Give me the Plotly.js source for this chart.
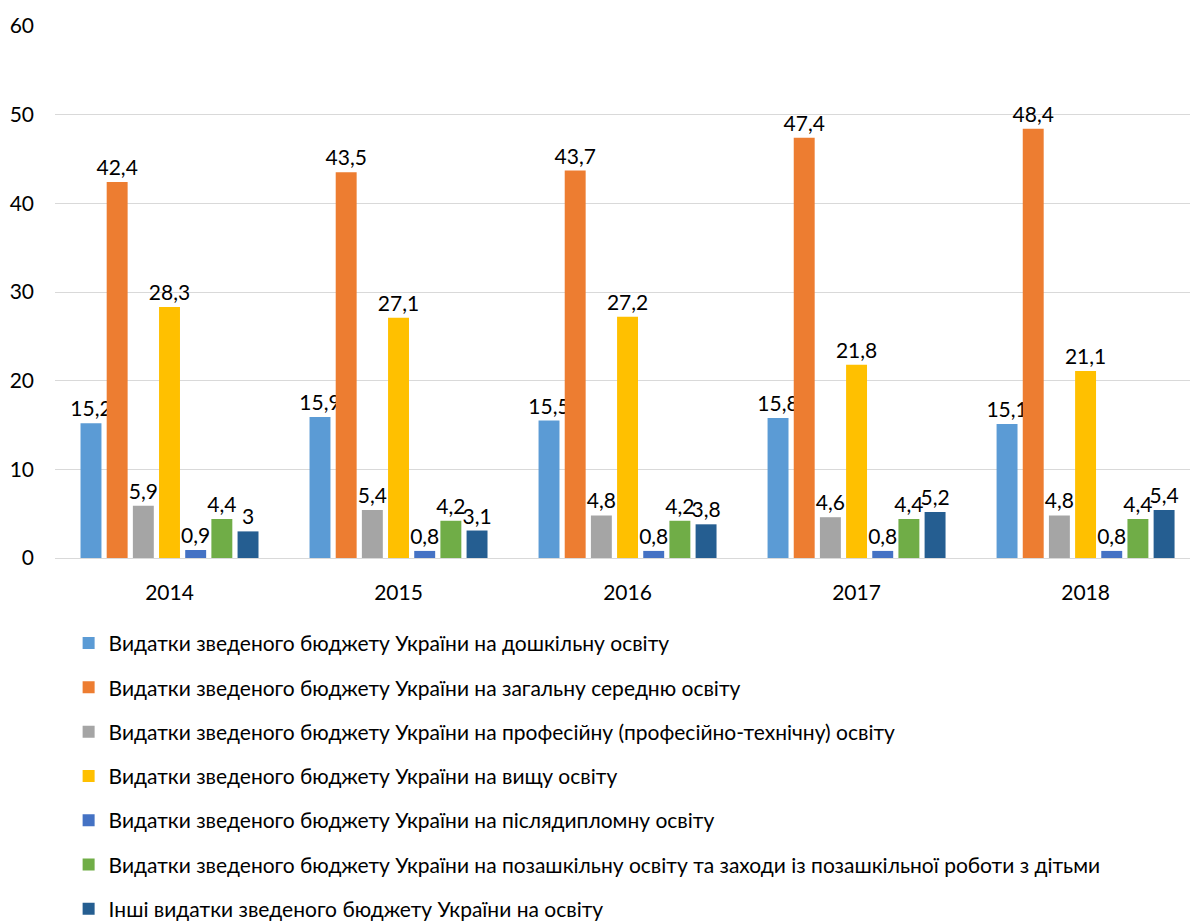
<!DOCTYPE html>
<html><head><meta charset="utf-8">
<script src="https://cdn.plot.ly/plotly-3.0.1.min.js"></script>
<style>html,body{margin:0;padding:0;background:#fff}#chart{width:1190px;height:923px}</style>
</head><body><div id="chart"></div>
<script>
const years = ['2014','2015','2016','2017','2018'];
const seriesNames = [
  'Видатки зведеного бюджету України на дошкільну освіту',
  'Видатки зведеного бюджету України на загальну середню освіту',
  'Видатки зведеного бюджету України на професійну (професійно-технічну) освіту',
  'Видатки зведеного бюджету України на вищу освіту',
  'Видатки зведеного бюджету України на післядипломну освіту',
  'Видатки зведеного бюджету України на позашкільну освіту та заходи із позашкільної роботи з дітьми',
  'Інші видатки зведеного бюджету України на освіту'
];
const preschool = [15.2, 15.9, 15.5, 15.8, 15.1];
const generalSecondary = [42.4, 43.5, 43.7, 47.4, 48.4];
const vocational = [5.9, 5.4, 4.8, 4.6, 4.8];
const higher = [28.3, 27.1, 27.2, 21.8, 21.1];
const postgraduate = [0.9, 0.8, 0.8, 0.8, 0.8];
const outOfSchool = [4.4, 4.2, 4.2, 4.4, 4.4];
const other = [3, 3.1, 3.8, 5.2, 5.4];
const seriesValues = [preschool, generalSecondary, vocational, higher, postgraduate, outOfSchool, other];
const colors = ['#5B9BD5','#ED7D31','#A5A5A5','#FFC000','#4472C4','#70AD47','#255E91'];

const FONT = 'Lato, "Open Sans", sans-serif';
const traces = seriesValues.map((vals, i) => ({
  type: 'bar',
  name: seriesNames[i],
  x: years,
  y: vals,
  marker: {color: colors[i]},
  text: vals.map(v => String(v).replace('.', ',')),
  textposition: 'outside',
  textangle: 0,
  constraintext: 'none',
  cliponaxis: false,
  textfont: {family: FONT, size: 21, color: '#000'},
  legendgroup: 'g' + i,
  hoverinfo: 'x+y+name'
}));

const layout = {
  width: 1190, height: 923,
  margin: {l: 55, r: 0, t: 26, b: 365, autoexpand: false},
  paper_bgcolor: '#fff', plot_bgcolor: '#fff',
  font: {family: FONT, size: 21, color: '#000'},
  barmode: 'group',
  bargap: 0.2,
  bargroupgap: 0.2,
  separators: ', ',
  xaxis: {
    type: 'category',
    range: [-0.5, 4.456],
    showgrid: false,
    showline: true, linecolor: '#D9D9D9', linewidth: 1,
    ticks: '', ticklabelstandoff: 16,
    tickfont: {family: FONT, size: 21, color: '#000'}
  },
  yaxis: {
    range: [0, 60],
    dtick: 10,
    showgrid: true, gridcolor: '#D9D9D9', gridwidth: 1,
    zeroline: true, zerolinecolor: '#D9D9D9', zerolinewidth: 1,
    showline: false, ticks: '', ticklabelstandoff: 20,
    tickfont: {family: FONT, size: 21, color: '#000'}
  },
  showlegend: true,
  legend: {
    orientation: 'v',
    x: 0.012, xanchor: 'left',
    y: -0.122, yanchor: 'top',
    tracegroupgap: 14,
    traceorder: 'grouped',
    font: {family: FONT, size: 21, color: '#000'},
    itemwidth: 30,
    bgcolor: 'rgba(0,0,0,0)'
  }
};
Plotly.newPlot('chart', traces, layout, {staticPlot: true, displayModeBar: false});
</script></body></html>
